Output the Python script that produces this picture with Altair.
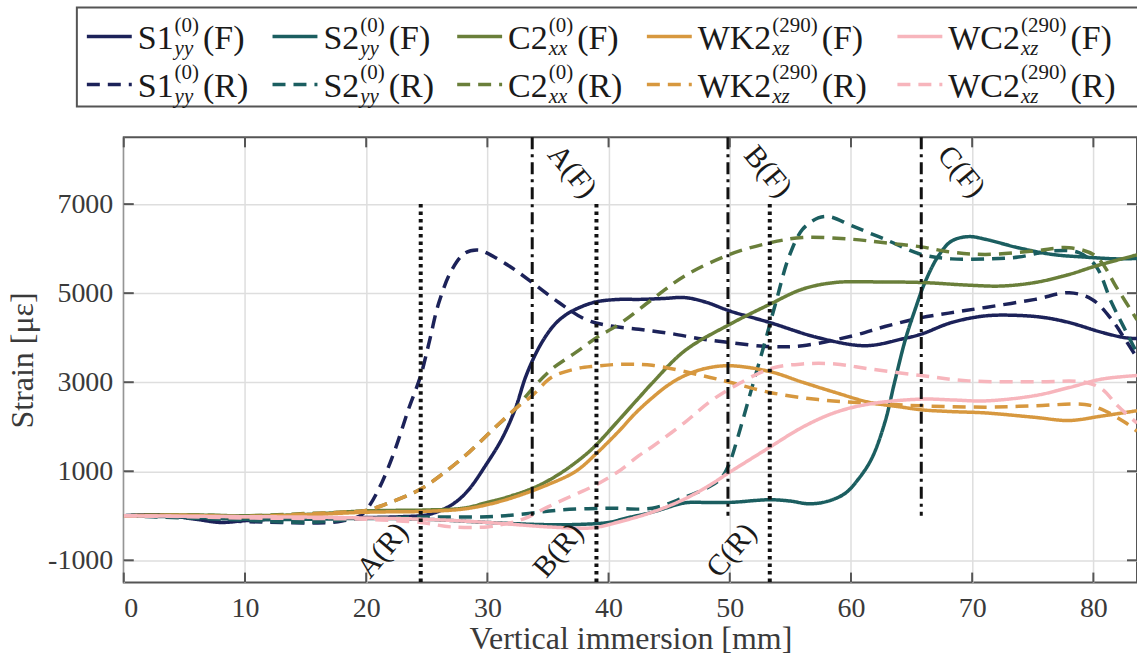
import altair as alt
import pandas as pd

# ---------------- strain records (x: vertical immersion in mm, strain in micro-strain) ----------------
S1_F_X = [0, 3, 6, 8, 10, 13, 16, 20, 23, 25, 26.4, 27.5, 28.5, 29.9, 31.2, 32.3, 33.2, 34.3, 35.4, 36.3,
          37.3, 38.9, 40.85, 42.5, 44.5, 46.3, 48, 50, 53.3, 57.3, 61.2, 64.2, 65.8, 68.3, 71.1, 73.8, 76,
          78, 80.7, 82.6, 83.6]
S1_F_Y = [0, 20, -80, -150, -110, -70, -50, -40, -20, 20, 150, 330, 600, 1150, 1730, 2400, 3150, 3800, 4250,
          4480, 4640, 4800, 4860, 4860, 4880, 4900, 4800, 4600, 4340, 4000, 3820, 3970, 4080, 4340, 4490,
          4500, 4450, 4340, 4120, 4000, 3980]

S1_R_X = [0, 3, 6, 10, 13, 16, 18, 19.5, 20.2, 21.3, 22.4, 23.5, 24.5, 25.2, 26, 27.1, 28.2, 29.3, 29.9,
          31.8, 33.7, 35.9, 38.1, 40, 42.5, 45, 47.7, 50, 53.3, 56, 60.1, 62.8, 65.8, 68.5, 71.1, 75.2, 78,
          79.9, 81.5, 82.6, 83.6]
S1_R_Y = [0, 0, -60, -130, -150, -160, -120, 0, 200, 750, 1500, 2400, 3150, 3900, 4790, 5540, 5910, 5970,
          5910, 5610, 5240, 4790, 4410, 4270, 4190, 4100, 3970, 3890, 3800, 3820, 4040, 4250, 4450, 4570,
          4680, 4860, 5010, 4860, 4410, 3970, 3550]

S2_F_X = [0, 5, 10, 15, 20, 25, 30, 35, 38, 40, 41.5, 43.6, 46.3, 48, 50, 53.3, 55, 56.5, 58, 59.5, 60.6,
          61.7, 62.8, 63.6, 64.5, 65.3, 66.1, 67.2, 68.3, 69.7, 71.1, 73.8, 76.6, 79.3, 82, 83.6]
S2_F_Y = [0, -30, -80, -80, -60, -80, -150, -200, -190, -150, -50, 80, 290, 300, 300, 360, 330, 270, 320,
          500, 820, 1280, 2100, 3000, 3970, 4640, 5240, 5830, 6170, 6270, 6210, 6020, 5870, 5810, 5770, 5780]

S2_R_X = [0, 5, 10, 15, 20, 25, 30, 33, 36, 40, 43.6, 46.3, 48.3, 49.3, 50, 50.7, 51.8, 52.9, 53.8, 54.9,
          56, 57.3, 58.2, 60.1, 62.8, 65.8, 68.3, 71.1, 73.8, 76.6, 78.8, 80.2, 81.5, 82.6, 83.6]
S2_R_Y = [0, -50, -100, -150, -60, -30, -20, 40, 130, 170, 170, 420, 650, 850, 1200, 1800, 2850, 3900, 4790,
          5830, 6430, 6690, 6720, 6510, 6210, 5870, 5770, 5770, 5810, 5950, 5910, 5610, 4790, 4190, 3650]

C2_F_X = [0, 5, 10, 15, 20, 25, 28, 30, 32, 34, 36, 38, 39, 40.85, 42.5, 43.6, 46.3, 50, 53.3, 56, 58.7,
          62.8, 65.8, 69.7, 72.4, 75.2, 78, 80.2, 83.6]
C2_F_Y = [0, 20, 0, 30, 110, 130, 170, 300, 450, 650, 950, 1350, 1600, 2150, 2650, 2980, 3710, 4300, 4750,
          5090, 5240, 5250, 5240, 5180, 5160, 5240, 5420, 5610, 5860]

C2_R_X = [0, 5, 10, 15, 18, 20, 22, 24.5, 26.5, 28.5, 30.5, 32.3, 33.7, 35.3, 37.3, 39, 40.85, 43.6, 46.3,
          50, 53.3, 56, 60.1, 62.8, 65.8, 68.3, 71.1, 75.2, 78, 80.2, 82, 83.6]
C2_R_Y = [0, 20, 0, 50, 80, 120, 300, 600, 980, 1430, 1950, 2400, 2850, 3290, 3670, 4000, 4300, 4860, 5390,
          5870, 6130, 6250, 6210, 6130, 6040, 5920, 5870, 5950, 6020, 5830, 5090, 4400]

WK2_F_X = [0, 5, 10, 15, 20, 25, 28, 30, 32, 35, 37.3, 39, 40.85, 42.2, 43.6, 45, 46.3, 48, 50, 53.3, 56,
           58.7, 61.5, 64.2, 65.8, 68.3, 71.1, 75.2, 78, 80.7, 83.6]
WK2_F_Y = [0, 10, -20, 20, 80, 100, 150, 250, 400, 700, 1000, 1400, 1900, 2300, 2650, 2950, 3150, 3310,
           3370, 3240, 3000, 2770, 2550, 2440, 2380, 2340, 2310, 2210, 2140, 2240, 2360]

WK2_R_X = [0, 5, 10, 15, 18, 20, 22, 24.5, 26.5, 28.5, 30.5, 32.3, 33.7, 35.3, 37.3, 38.9, 40.85, 43.6,
           47.7, 50, 53.3, 57.3, 61.5, 65.8, 71.1, 75.2, 79.3, 80.7, 82.6, 83.6]
WK2_R_Y = [0, 0, -20, 40, 80, 120, 300, 600, 980, 1430, 1950, 2400, 2700, 3110, 3300, 3360, 3400, 3380,
           3150, 3000, 2770, 2610, 2530, 2470, 2440, 2470, 2500, 2390, 2100, 1900]

WC2_F_X = [0, 5, 10, 15, 20, 25, 30, 35, 38, 39, 40.85, 43.6, 46.3, 48.3, 50, 53.3, 56, 58.7, 61.5, 65.8,
           68.5, 71.1, 75.2, 78, 80.7, 83.6]
WC2_F_Y = [0, -10, -20, -30, -50, -80, -150, -250, -280, -260, -140, 80, 380, 680, 980, 1540, 1990, 2320,
           2510, 2620, 2600, 2580, 2700, 2880, 3070, 3150]

WC2_R_X = [0, 5, 10, 15, 20, 24.5, 27, 30, 31.5, 33, 35, 37, 39, 40.85, 42.5, 43.6, 46.3, 48.3, 50, 53.3,
           56, 58.7, 61.5, 65.8, 69.7, 75.2, 79.3, 80.7, 82, 83.6]
WC2_R_Y = [0, -20, -50, -60, -80, -150, -250, -250, -180, -70, 200, 450, 700, 1000, 1350, 1550, 2100, 2550,
           2850, 3300, 3410, 3410, 3300, 3150, 3030, 3010, 3000, 2850, 2470, 2080]

# ---------------- series naming ----------------
SERIES = ["S1", "S2", "C2", "WK2", "WC2"]
SUPERS = ["(0)", "(0)", "(0)", "(290)", "(290)"]
SUBS = ["yy", "yy", "xx", "xz", "xz"]
KINDS = ["F", "R"]

CURVES = {
    ("S1", "F"): (S1_F_X, S1_F_Y), ("S1", "R"): (S1_R_X, S1_R_Y),
    ("S2", "F"): (S2_F_X, S2_F_Y), ("S2", "R"): (S2_R_X, S2_R_Y),
    ("C2", "F"): (C2_F_X, C2_F_Y), ("C2", "R"): (C2_R_X, C2_R_Y),
    ("WK2", "F"): (WK2_F_X, WK2_F_Y), ("WK2", "R"): (WK2_R_X, WK2_R_Y),
    ("WC2", "F"): (WC2_F_X, WC2_F_Y), ("WC2", "R"): (WC2_R_X, WC2_R_Y),
}

# event markers
REV_NAMES = ["A(R)", "B(R)", "C(R)"]
REV_X = [24.5, 39.0, 53.3]
FWD_NAMES = ["A(F)", "B(F)", "C(F)"]
FWD_X = [33.7, 49.85, 65.8]

X_TICKS = [0, 10, 20, 30, 40, 50, 60, 70, 80]
Y_TICKS = [-1000, 1000, 3000, 5000, 7000]

# ---------------- styling ----------------
COLORS = {"S1": "#1c2259", "S2": "#1b5e60", "C2": "#6a7f3a", "WK2": "#d7983f", "WC2": "#f7b5bc"}
DASHES = {"F": [1, 0], "R": [13, 8]}
FRAME = "#555555"
TEXT = "#3a3a3a"
FONT = "Liberation Serif"

W, H = 1015, 446
TICK = 10

x_scale = alt.Scale(domain=[0, 83.6], nice=False, zero=False)
y_scale = alt.Scale(domain=[-1500, 8500], nice=False, zero=False)
x_axis = alt.Axis(values=X_TICKS, title="Vertical immersion [mm]", grid=True, tickSize=0, domain=False,
                  labelPadding=12, labelFontSize=28, titleFontSize=32, titlePadding=1,
                  labelExpr="'' + datum.value")
y_axis = alt.Axis(values=Y_TICKS, title="Strain [με]", grid=True, tickSize=0, domain=False,
                  labelPadding=11, labelFontSize=28, titleFontSize=32, titlePadding=8,
                  labelExpr="'' + datum.value")


def X(field="x"):
    return alt.X(f"{field}:Q", scale=x_scale, axis=x_axis)


def Y(field="strain"):
    return alt.Y(f"{field}:Q", scale=y_scale, axis=y_axis)


layers = []

# strain curves, later series on top
for name in SERIES:
    for kind in KINDS:
        xs, ys = CURVES[(name, kind)]
        df = pd.DataFrame({"x": xs, "strain": ys})
        layers.append(
            alt.Chart(df).mark_line(
                interpolate="catmull-rom", strokeWidth=3.5, color=COLORS[name],
                strokeDash=DASHES[kind], clip=True
            ).encode(x=X(), y=Y())
        )

# event marker lines
fwd_df = pd.DataFrame({"x": FWD_X, "label": FWD_NAMES})
rev_df = pd.DataFrame({"x": REV_X, "label": REV_NAMES})
layers.append(
    alt.Chart(fwd_df).mark_rule(color="#111111", strokeWidth=3, strokeDash=[12, 5, 3, 5]).encode(
        x=X(), y=alt.datum(8500), y2=alt.datum(0))
)
layers.append(
    alt.Chart(rev_df).mark_rule(color="#111111", strokeWidth=4, strokeDash=[3.5, 4]).encode(
        x=X(), y=alt.datum(7000), y2=alt.datum(-1500))
)
layers.append(
    alt.Chart(fwd_df).mark_text(angle=50, xOffset=40, align="center", baseline="middle",
                                fontSize=30, color="#1a1a1a").encode(
        x=X(), y=alt.datum(7730), text="label:N")
)
layers.append(
    alt.Chart(rev_df).mark_text(angle=310, xOffset=-38, align="center", baseline="middle",
                                fontSize=30, color="#1a1a1a").encode(
        x=X(), y=alt.datum(-780), text="label:N")
)

# inward ticks on all four sides of the frame
ytk = pd.DataFrame({"strain": Y_TICKS})
xtk = pd.DataFrame({"x": X_TICKS})
tick_style = dict(color=FRAME, strokeWidth=2)
layers.append(alt.Chart(ytk).mark_rule(**tick_style).encode(x=alt.value(0), x2=alt.value(TICK), y=Y()))
layers.append(alt.Chart(ytk).mark_rule(**tick_style).encode(x=alt.value(W - TICK), x2=alt.value(W), y=Y()))
layers.append(alt.Chart(xtk).mark_rule(**tick_style).encode(x=X(), y=alt.value(H), y2=alt.value(H - TICK)))
layers.append(alt.Chart(xtk).mark_rule(**tick_style).encode(x=X(), y=alt.value(0), y2=alt.value(TICK)))

# ---------------- legend above the frame ----------------
LEG_COL = [-37, 149, 334, 524, 775]     # left end of each legend column, px from frame origin
LEG_LINE_Y = -101
LEG_BASE_Y = -88
LEG_ROW = 48
MAIN_FS, SCRIPT_FS = 34, 21

W_UP = {"S": .556, "1": .5, "2": .5, "C": .667, "W": .944, "K": .722, "(": .333, ")": .333,
        "0": .5, "9": .5, "F": .556, "R": .667}
W_IT = {"x": .444, "y": .444, "z": .389}


def text_width(s, size, table):
    return sum(table.get(c, .5) for c in s) * size


line_rows, main_rows, sup_rows, sub_rows, tail_rows = [], [], [], [], []
for i, name in enumerate(SERIES):
    for r, kind in enumerate(KINDS):
        x0 = LEG_COL[i]
        ly = LEG_LINE_Y + r * LEG_ROW
        base = LEG_BASE_Y + r * LEG_ROW
        line_rows.append({"x0": x0, "x1": x0 + 45, "py": ly, "series": name, "kind": kind})
        mx = x0 + 51
        main_rows.append({"px": mx, "py": base, "t": name})
        sx = mx + text_width(name, MAIN_FS, W_UP) + 1
        sup_rows.append({"px": sx, "py": base - 18, "t": SUPERS[i]})
        sub_rows.append({"px": sx, "py": base + 6, "t": SUBS[i]})
        tx = sx + max(text_width(SUPERS[i], SCRIPT_FS, W_UP), text_width(SUBS[i], SCRIPT_FS, W_IT)) + 4
        tail_rows.append({"px": tx, "py": base, "t": f"({kind})"})

PX = alt.X("px:Q", scale=None, axis=None)
PY = alt.Y("py:Q", scale=None, axis=None)

layers.append(
    alt.Chart(pd.DataFrame({"k": [0]})).mark_rect(fill="white", stroke=FRAME, strokeWidth=2).encode(
        x=alt.value(-47), x2=alt.value(W + 20), y=alt.value(-130), y2=alt.value(-31))
)
layers.append(
    alt.Chart(pd.DataFrame(line_rows)).mark_rule(strokeWidth=3.5).encode(
        x=alt.X("x0:Q", scale=None, axis=None), x2="x1:Q", y=PY,
        color=alt.Color("series:N", scale=alt.Scale(domain=SERIES, range=[COLORS[s] for s in SERIES]),
                        legend=None),
        strokeDash=alt.StrokeDash("kind:N", scale=alt.Scale(domain=KINDS, range=[DASHES[k] for k in KINDS]),
                                  legend=None))
)
for rows, size, style in [(main_rows, MAIN_FS, "normal"), (sup_rows, SCRIPT_FS, "normal"),
                          (sub_rows, SCRIPT_FS, "italic"), (tail_rows, MAIN_FS, "normal")]:
    layers.append(
        alt.Chart(pd.DataFrame(rows)).mark_text(align="left", baseline="alphabetic", fontSize=size,
                                                fontStyle=style, color="#1a1a1a").encode(
            x=PX, y=PY, text="t:N")
    )

chart = alt.layer(*layers).properties(
    width=W, height=H,
    autosize=alt.AutoSizeParams(type="none"),
    padding={"left": 124, "top": 137, "right": 0, "bottom": 76},
).configure(font=FONT, background="white").configure_view(
    stroke=FRAME, strokeWidth=2
).configure_axis(
    gridColor="#dedede", gridWidth=1.5, labelColor=TEXT, titleColor=TEXT,
    labelFont=FONT, titleFont=FONT, titleFontWeight="normal"
)

chart.save("out.html", embed_options={"renderer": "svg", "actions": False})
